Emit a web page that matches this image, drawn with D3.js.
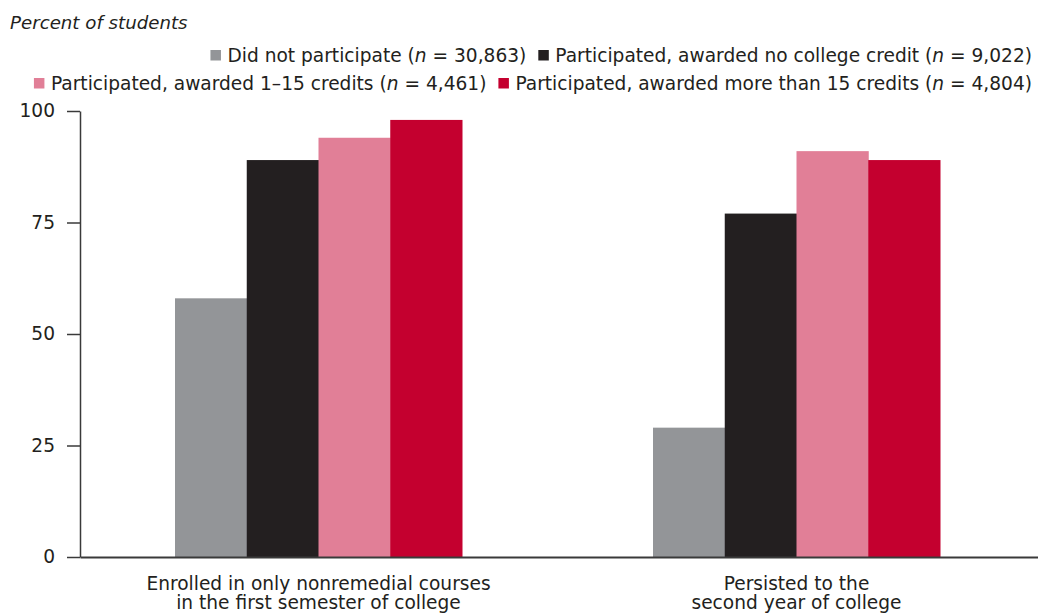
<!DOCTYPE html>
<html><head><meta charset="utf-8">
<script src="https://cdn.jsdelivr.net/npm/d3@7"></script>
<style>
body{margin:0;background:#fff;}
text{font-family:"DejaVu Sans",sans-serif;fill:#231f20;}
</style></head>
<body><svg id="c" width="1038" height="614"></svg>
<script>
const categories = [["Enrolled in only nonremedial courses","in the first semester of college"],["Persisted to the","second year of college"]];
const seriesNames = ["Did not participate","Participated, awarded no college credit","Participated, awarded 1\u201315 credits","Participated, awarded more than 15 credits"];
const seriesN = ["30,863","9,022","4,461","4,804"];
const colors = ["#939598","#231f20","#e17f97","#c4002f"];
const values = [[58,29],[89,77],[94,91],[98,89]];
const yTicks = [0,25,50,75,100];

const svg = d3.select("#c");
const x0 = d3.scaleBand().domain([0,1]).range([80,1038]).paddingInner(0).paddingOuter(0);
const y = d3.scaleLinear().domain([0,100]).range([557,111]);
const x1 = d3.scaleBand().domain([0,1,2,3]).range([0,287]).padding(0);
const offsets = [95,94];

const FS = 18.6;

svg.append("text").attr("x",10).attr("y",29).attr("font-size",FS-0.4).attr("font-style","italic").text("Percent of students");

// bars
values.forEach((vals,s)=>{
  vals.forEach((v,c)=>{
    svg.append("rect")
      .attr("x",x0(c)+offsets[c]+x1(s))
      .attr("y",y(v))
      .attr("width",x1.bandwidth()+0.5)
      .attr("height",y(0)-y(v))
      .attr("fill",colors[s]);
  });
});

// y axis
const ya = svg.append("g").attr("transform","translate(80,0)")
  .call(d3.axisLeft(y).tickValues(yTicks).tickSize(13).tickPadding(12).tickSizeOuter(0));
ya.select(".domain").attr("stroke","#3a3a3a").attr("stroke-width",1.5);
ya.selectAll(".tick line").attr("stroke","#3a3a3a").attr("stroke-width",1.5);
ya.selectAll(".tick text").attr("font-size",FS).attr("fill","#231f20").attr("font-family","DejaVu Sans, sans-serif");

// x axis
const xa = svg.append("g").attr("transform","translate(0,557)")
  .call(d3.axisBottom(x0).tickSize(0).tickFormat(""));
xa.select(".domain").attr("stroke","#3a3a3a").attr("stroke-width",2);

categories.forEach((lines,c)=>{
  const cx = x0(c)+offsets[c]+143.5;
  const t = svg.append("text").attr("text-anchor","middle").attr("font-size",FS);
  lines.forEach((l,i)=>t.append("tspan").attr("x",cx).attr("y",590+i*19).text(l));
});

// legend
const rows = [[0,1],[2,3]];
const rowY = [62,90];
rows.forEach((row,ri)=>{
  let xr = 1032;
  for(let k=row.length-1;k>=0;k--){
    const s = row[k];
    const t = svg.append("text").attr("y",rowY[ri]).attr("font-size",FS).attr("text-anchor","end").attr("x",xr);
    t.append("tspan").text(seriesNames[s]+" (");
    t.append("tspan").attr("font-style","italic").text("n");
    t.append("tspan").text(" = "+seriesN[s]+")");
    const w = t.node().getComputedTextLength();
    svg.append("rect").attr("x",xr-w-17).attr("y",rowY[ri]-12).attr("width",10.5).attr("height",10.5).attr("fill",colors[s]);
    xr = xr - w - 17 - 12;
  }
});
</script></body></html>
